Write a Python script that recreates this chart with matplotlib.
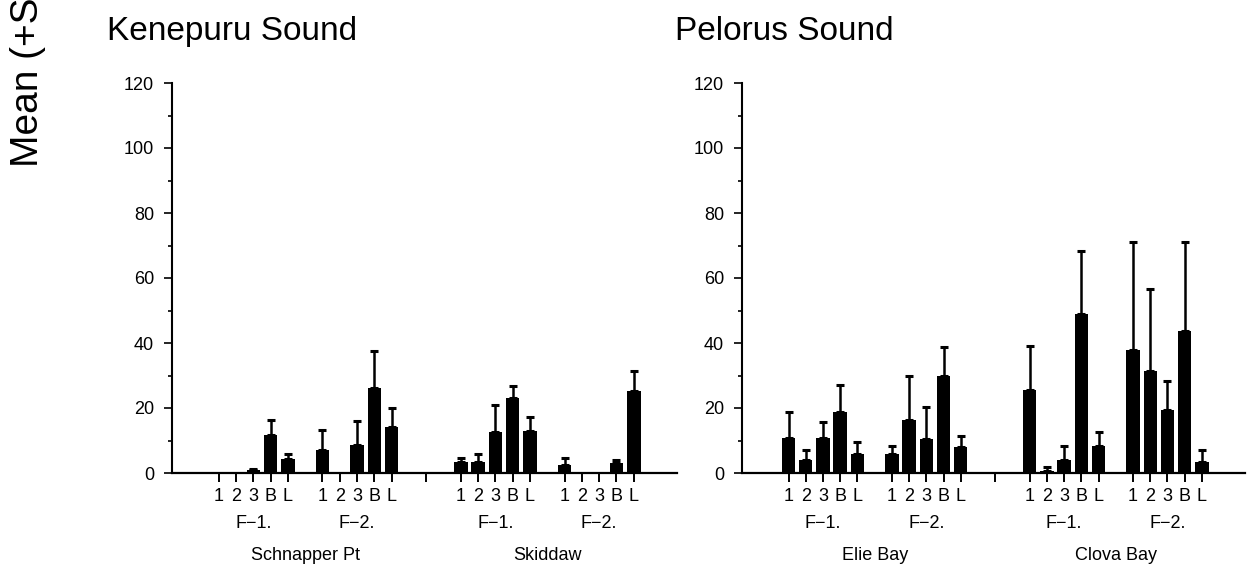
import numpy as np
import matplotlib
matplotlib.use('Agg')
import matplotlib.pyplot as plt

plt.rcParams['font.family'] = ['Liberation Sans', 'DejaVu Sans']

bar_labels = ['1', '2', '3', 'B', 'L']
filter_labels = ['F\u22121.', 'F\u22122.']
sound_titles = ['Kenepuru Sound', 'Pelorus Sound']
kenepuru_sites = ['Schnapper Pt', 'Skiddaw']
pelorus_sites = ['Elie Bay', 'Clova Bay']

# means per site, rows = F-1 / F-2, columns = 1 2 3 B L
schnapper_mean = [[0.0, 0.2, 0.8, 11.6, 4.4], [7.0, 0.2, 8.7, 26.3, 14.1]]
schnapper_se = [[0.0, 0.0, 0.3, 4.6, 1.5], [6.3, 0.0, 7.3, 11.2, 6.0]]
skiddaw_mean = [[3.3, 3.5, 12.6, 23.1, 12.8], [2.6, 0.0, 0.4, 3.0, 25.1]]
skiddaw_se = [[1.3, 2.4, 8.2, 3.8, 4.4], [2.1, 0.0, 0.0, 0.9, 6.2]]
elie_mean = [[10.8, 4.0, 10.8, 18.8, 5.9], [5.8, 16.2, 10.6, 29.8, 7.9]]
elie_se = [[7.9, 3.0, 4.8, 8.4, 3.6], [2.5, 13.7, 9.6, 8.9, 3.4]]
clova_mean = [[25.6, 0.5, 4.1, 48.9, 8.4], [37.9, 31.3, 19.4, 43.8, 3.3]]
clova_se = [[13.6, 1.2, 4.1, 19.3, 4.1], [33.3, 25.3, 8.8, 27.2, 3.9]]

panels = [
    (kenepuru_sites, [schnapper_mean, skiddaw_mean], [schnapper_se, skiddaw_se]),
    (pelorus_sites, [elie_mean, clova_mean], [elie_se, clova_se]),
]

W, H = 1252, 565
fig = plt.figure(figsize=(W / 100, H / 100), dpi=100)

axes_rects = [[172 / W, 1 - 473 / H, 505 / W, 390 / H],
              [742 / W, 1 - 473 / H, 503 / W, 390 / H]]
title_x = [107 / W, 675 / W]

start = 2.7
site_step = 14
group_step = 6

for p, (sites, means, ses) in enumerate(panels):
    ax = fig.add_axes(axes_rects[p])
    ticks, ticklabels = [], []
    for s, site in enumerate(sites):
        for g, flab in enumerate(filter_labels):
            x = start + s * site_step + g * group_step + np.arange(5)
            m = np.array(means[s][g])
            e = np.array(ses[s][g])
            ax.bar(x, m, width=0.78, color='black', zorder=2)
            ok = e > 0
            ax.errorbar(x[ok], m[ok], yerr=[np.zeros(ok.sum()), e[ok]], fmt='none',
                        ecolor='black', elinewidth=1.8, capsize=3, capthick=2.2, zorder=3)
            ticks += list(x)
            ticklabels += bar_labels
            ax.annotate(flab, xy=(x[2], 0), xycoords=('data', 'axes fraction'),
                        xytext=(0, -50), textcoords='offset pixels',
                        ha='center', va='center', fontsize=13)
        ax.annotate(site, xy=(start + s * site_step + 5, 0), xycoords=('data', 'axes fraction'),
                    xytext=(0, -82), textcoords='offset pixels',
                    ha='center', va='center', fontsize=13)
        if s == 0:
            ticks.append(start + site_step - 2)
            ticklabels.append('')
    ax.set_xlim(0, 29.2)
    ax.set_ylim(0, 120)
    ax.set_xticks(ticks)
    ax.set_xticklabels(ticklabels, fontsize=13)
    ax.tick_params(axis='x', length=6.5, width=1.4, pad=4)
    ax.set_yticks(np.arange(0, 121, 20))
    ax.set_yticks(np.arange(10, 120, 20), minor=True)
    ax.tick_params(axis='y', which='major', length=6, width=1.2, labelsize=13, pad=7)
    ax.tick_params(axis='y', which='minor', length=3, width=1.2)
    for side in ['top', 'right']:
        ax.spines[side].set_visible(False)
    ax.spines['left'].set_linewidth(1.5)
    ax.spines['bottom'].set_linewidth(1.6)
    fig.text(title_x[p], 1 - 40 / H, sound_titles[p], fontsize=24, va='baseline', ha='left')

fig.text(28 / W, 1 - 167 / H, 'Mean (+S.E.) number per sample', rotation=90,
         fontsize=28, ha='center', va='bottom')

fig.savefig('out.png', dpi=100)
